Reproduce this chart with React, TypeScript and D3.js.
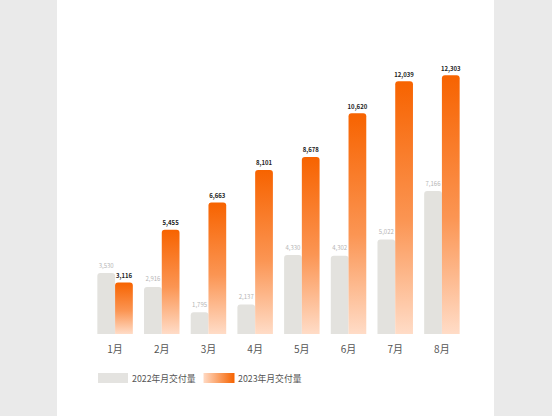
import React from 'react';
import * as d3 from 'd3';

const months = ['1月', '2月', '3月', '4月', '5月', '6月', '7月', '8月'];
const deliveries2022 = [3530, 2916, 1795, 2137, 4330, 4302, 5022, 7166];
const deliveries2023 = [3116, 5455, 6663, 8101, 8678, 10620, 12039, 12303];
const seriesNames = ['2022年月交付量', '2023年月交付量'];

const WIDTH = 552;
const HEIGHT = 416;
const FONT = "'Noto Sans CJK SC', 'Noto Sans', sans-serif";

// bar with rounded top corners only
function topRounded(x: number, y: number, w: number, h: number, r: number) {
  const rr = Math.min(r, h, w / 2);
  return `M${x},${y + h}V${y + rr}Q${x},${y} ${x + rr},${y}H${x + w - rr}Q${x + w},${y} ${x + w},${y + rr}V${y + h}Z`;
}

const App: React.FC = () => {
  const x = d3.scaleBand<string>()
    .domain(months)
    .range([74, 483])
    .paddingInner(0.24)
    .paddingOuter(0.5);

  const x1 = d3.scaleBand<string>()
    .domain(seriesNames)
    .range([0, x.bandwidth()]);

  const y = d3.scaleLinear()
    .domain([830, 13000])
    .range([334, 59.5]);

  const fmt = d3.format(',');
  const baseline = y(830);

  const rows = months.map((m, i) => ({
    month: m,
    values: [deliveries2022[i], deliveries2023[i]],
  }));

  return (
    <svg
      width={WIDTH}
      height={HEIGHT}
      style={{ position: 'absolute', left: 0, top: 0 }}
      fontFamily={FONT}
    >
      <defs>
        <linearGradient id="barGrad" x1="0" y1="0" x2="0" y2="1">
          <stop offset="0%" stopColor="#f76300" />
          <stop offset="55%" stopColor="#fb9553" />
          <stop offset="100%" stopColor="#ffdcc7" />
        </linearGradient>
        <linearGradient id="legendGrad" x1="0" y1="0" x2="1" y2="0">
          <stop offset="0%" stopColor="#ffdac4" />
          <stop offset="100%" stopColor="#f66300" />
        </linearGradient>
      </defs>

      <rect x={0} y={0} width={WIDTH} height={HEIGHT} fill="#eaeaea" />
      <rect x={57} y={0} width={437} height={HEIGHT} fill="#ffffff" />

      {rows.map(row => (
        <g key={row.month} transform={`translate(${x(row.month)},0)`}>
          {row.values.map((v, j) => {
            const bx = x1(seriesNames[j]) as number;
            const bw = x1.bandwidth();
            const top = y(v);
            return (
              <g key={seriesNames[j]}>
                <path
                  d={topRounded(bx, top, bw, baseline - top, 3)}
                  fill={j === 0 ? '#e3e2de' : 'url(#barGrad)'}
                />
                <text
                  x={bx + bw / 2}
                  y={top - (j === 0 ? 5.5 : 4.5)}
                  textAnchor="middle"
                  fontSize={6}
                  fontWeight={j === 0 ? 400 : 700}
                  fill={j === 0 ? '#b5b5b5' : '#222222'}
                >
                  {fmt(v)}
                </text>
              </g>
            );
          })}
          <text
            x={x.bandwidth() / 2}
            y={353}
            textAnchor="middle"
            fontSize={10}
            fill="#555555"
          >
            {row.month}
          </text>
        </g>
      ))}

      {/* legend */}
      <g>
        <rect x={98} y={373} width={30} height={10} fill="#e4e3e0" />
        <text x={132} y={381.5} fontSize={8.8} fill="#555555">{seriesNames[0]}</text>
        <rect x={203.5} y={373} width={31} height={10} fill="url(#legendGrad)" />
        <text x={238} y={381.5} fontSize={8.8} fill="#555555">{seriesNames[1]}</text>
      </g>
    </svg>
  );
};

export default App;
